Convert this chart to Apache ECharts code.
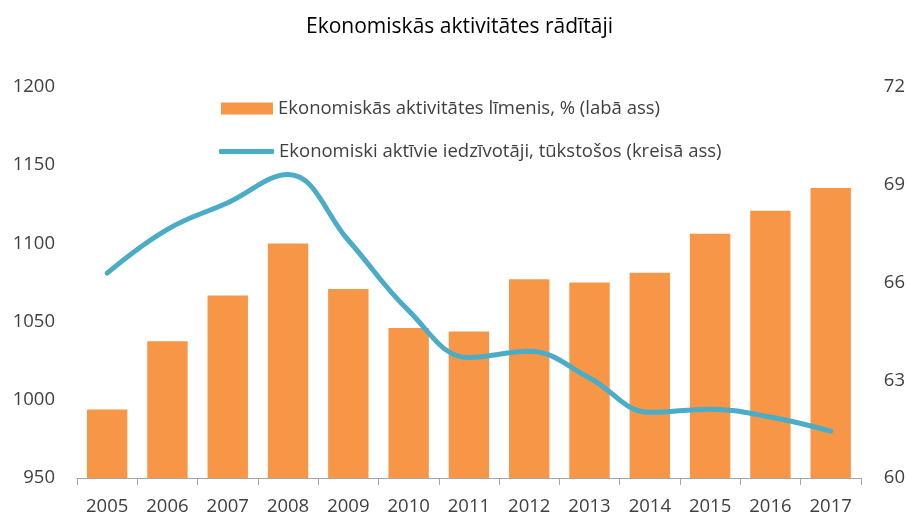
<!DOCTYPE html>
<html>
<head>
<meta charset="utf-8">
<script src="https://cdn.jsdelivr.net/npm/echarts@6/dist/echarts.min.js"></script>
<style>
  html, body { margin: 0; padding: 0; background: #fff; }
  #chart { width: 908px; height: 519px; }
</style>
</head>
<body>
<div id="chart"></div>
<script>
// gadi
const years = ['2005', '2006', '2007', '2008', '2009', '2010', '2011', '2012', '2013', '2014', '2015', '2016', '2017']
// aktivitātes līmenis, % (labā ass)
const activityRate = [62.1, 64.2, 65.6, 67.2, 65.8, 64.6, 64.5, 66.1, 66.0, 66.3, 67.5, 68.2, 68.9]
// aktīvie iedzīvotāji, tūkst. (kreisā ass)
const activePeople = [1081, 1109, 1126, 1144, 1102, 1057, 1027, 1031, 1014, 992, 994, 989, 980]

const barName = 'Ekonomiskās aktivitātes līmenis, % (labā ass)'
const lineName = 'Ekonomiski aktīvie iedzīvotāji, tūkstošos (kreisā ass)'

const FONT = 'Open Sans'
const labelStyle = {fontFamily: FONT, fontSize: 18.5, color: '#404040'}

const chart = echarts.init(document.getElementById('chart'))

chart.setOption({
  backgroundColor: '#ffffff',
  animation: false,
  title: {
    text: 'Ekonomiskās aktivitātes rādītāji',
    left: 306,
    top: 17,
    padding: 0,
    textStyle: {fontFamily: FONT, fontSize: 21, fontWeight: 'normal', color: '#000'},
  },
  /** 两个图例，分别控制图标大小 */
  legend: [
    {
      left: 221,
      top: 99,
      padding: 0,
      itemWidth: 52,
      itemHeight: 12,
      icon: 'rect',
      data: [barName],
      textStyle: labelStyle,
    },
    {
      left: 219,
      top: 142,
      padding: 0,
      itemWidth: 55,
      itemHeight: 5,
      icon: 'roundRect',
      data: [lineName],
      textStyle: labelStyle,
    },
  ],
  grid: {
    left: 77,
    right: 47,
    top: 87,
    bottom: 41,
  },
  xAxis: {
    type: 'category',
    data: years,
    boundaryGap: true,
    axisLine: {lineStyle: {color: '#a6a6a6', width: 1}},
    axisTick: {show: true, length: 7, lineStyle: {color: '#a6a6a6'}},
    axisLabel: {...labelStyle, margin: 19},
  },
  yAxis: [
    /** 左轴 */
    {
      type: 'value',
      min: 950,
      max: 1200,
      interval: 50,
      axisLine: {show: false},
      axisTick: {show: false},
      splitLine: {show: false},
      axisLabel: {...labelStyle, margin: 22, formatter: (v) => String(v)},
    },
    /** 右轴 */
    {
      type: 'value',
      min: 60,
      max: 72,
      interval: 3,
      axisLine: {show: false},
      axisTick: {show: false},
      splitLine: {show: false},
      axisLabel: {...labelStyle, margin: 23, formatter: (v) => String(v)},
    },
  ],
  series: [
    {
      name: barName,
      type: 'bar',
      yAxisIndex: 1,
      data: activityRate,
      barWidth: '67%',
      itemStyle: {color: '#f79646'},
    },
    {
      name: lineName,
      type: 'line',
      yAxisIndex: 0,
      data: activePeople,
      smooth: 0.4,
      symbol: 'none',
      lineStyle: {color: '#4bacc6', width: 5, cap: 'round'},
      itemStyle: {color: '#4bacc6'},
    },
  ],
})
</script>
</body>
</html>
